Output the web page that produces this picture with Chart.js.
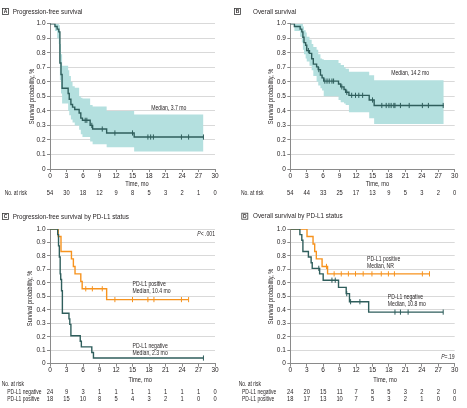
<!DOCTYPE html>
<html><head><meta charset="utf-8">
<script src="https://cdn.jsdelivr.net/npm/chart.js@4/dist/chart.umd.min.js"></script>
<style>
html,body{margin:0;padding:0;background:#fff;}
#wrap{position:relative;width:467px;height:408px;overflow:hidden;background:#fff}
canvas{position:absolute}
</style></head><body><div id="wrap">
<canvas id="cA" width="233" height="200" style="left:0;top:0"></canvas>
<canvas id="cB" width="234" height="200" style="left:233px;top:0"></canvas>
<canvas id="cC" width="233" height="208" style="left:0;top:200px"></canvas>
<canvas id="cD" width="234" height="208" style="left:233px;top:200px"></canvas>
</div>
<script>
// ---------- tick labels ----------
const timeTicks = [0, 3, 6, 9, 12, 15, 18, 21, 24, 27, 30];
const survTicks = [0, 0.1, 0.2, 0.3, 0.4, 0.5, 0.6, 0.7, 0.8, 0.9, 1.0];
const survTickLabels = ['0', '0.1', '0.2', '0.3', '0.4', '0.5', '0.6', '0.7', '0.8', '0.9', '1.0'];

// ---------- A: progression-free survival ----------
const aTime  = [0, 0.9, 1.3, 1.6, 1.8, 2.0, 2.2, 3.3, 3.5, 3.8, 4.1, 4.5, 5.3, 5.6, 5.9, 7.3, 7.75, 10.3, 15.3, 27.9];
const aSurv  = [1, 0.981, 0.963, 0.944, 0.73, 0.65, 0.556, 0.52, 0.48, 0.444, 0.426, 0.41, 0.385, 0.35, 0.335, 0.30, 0.275, 0.248, 0.22, 0.22];
const aUpper = [1, 1, 1, 0.99, 0.86, 0.79, 0.71, 0.68, 0.64, 0.60, 0.57, 0.56, 0.50, 0.49, 0.485, 0.44, 0.43, 0.40, 0.375, 0.375];
const aLower = [1, 0.95, 0.90, 0.86, 0.61, 0.52, 0.45, 0.40, 0.37, 0.34, 0.32, 0.30, 0.27, 0.24, 0.22, 0.19, 0.17, 0.15, 0.12, 0.12];
const aCensor = [6.4, 6.7, 7.6, 9.5, 11.8, 15.0, 17.8, 18.3, 18.8, 23.9, 25.2, 27.9];
const aRisk  = [54, 30, 18, 12, 9, 8, 5, 3, 2, 1, 0];

// ---------- B: overall survival ----------
const bTime  = [0, 0.75, 1.8, 2.1, 2.3, 2.5, 2.8, 3.0, 3.5, 3.9, 4.2, 4.8, 5.1, 5.5, 5.8, 6.1, 8.8, 9.2, 9.8, 10.1, 10.7, 14.4, 15.3, 28.0];
const bSurv  = [1, 0.981, 0.963, 0.944, 0.907, 0.870, 0.852, 0.815, 0.796, 0.759, 0.722, 0.703, 0.684, 0.646, 0.627, 0.605, 0.585, 0.565, 0.547, 0.528, 0.507, 0.475, 0.437, 0.437];
const bUpper = [1, 1, 1, 1, 0.98, 0.955, 0.94, 0.91, 0.89, 0.86, 0.84, 0.82, 0.79, 0.76, 0.755, 0.75, 0.73, 0.715, 0.70, 0.69, 0.67, 0.645, 0.61, 0.61];
const bLower = [1, 0.95, 0.91, 0.87, 0.82, 0.79, 0.76, 0.74, 0.71, 0.68, 0.64, 0.60, 0.575, 0.555, 0.54, 0.50, 0.475, 0.46, 0.45, 0.44, 0.39, 0.35, 0.31, 0.31];
const bCensor = [3.3, 5.2, 6.3, 6.7, 7.1, 7.6, 7.9, 9.4, 10.3, 11.2, 11.9, 12.5, 13.2, 15.0, 16.7, 17.5, 18.0, 18.4, 18.9, 19.1, 20.1, 21.7, 24.1, 25.2, 27.9];
const bRisk  = [54, 44, 33, 25, 17, 13, 9, 5, 3, 2, 0];

// ---------- C: PFS by PD-L1 status ----------
const cNegTime = [0, 1.4, 1.55, 1.7, 1.85, 1.95, 2.1, 2.25, 3.45, 3.6, 3.8, 5.5, 5.7, 7.6, 7.9, 27.9];
const cNegSurv = [1, 0.958, 0.875, 0.792, 0.667, 0.625, 0.542, 0.375, 0.333, 0.292, 0.208, 0.167, 0.125, 0.083, 0.042, 0.042];
const cNegCensor = [27.9];
const cPosTime = [0, 1.5, 2.0, 3.9, 4.25, 4.55, 5.6, 5.85, 10.3, 25.2];
const cPosSurv = [1, 0.944, 0.833, 0.778, 0.722, 0.667, 0.611, 0.556, 0.476, 0.476];
const cPosCensor = [6.5, 7.7, 9.5, 11.8, 15.0, 17.8, 18.9, 23.9, 25.2];
const cNegRisk = [24, 9, 3, 1, 1, 1, 1, 1, 1, 1, 0];
const cPosRisk = [18, 15, 10, 8, 5, 4, 3, 2, 1, 0, 0];

// ---------- D: OS by PD-L1 status ----------
const dNegTime = [0, 1.75, 2.1, 2.3, 3.3, 3.8, 4.0, 5.35, 6.0, 8.8, 10.2, 10.8, 14.3, 27.9];
const dNegSurv = [1, 0.958, 0.917, 0.833, 0.792, 0.75, 0.708, 0.667, 0.62, 0.567, 0.52, 0.46, 0.383, 0.383];
const dNegCensor = [5.2, 7.6, 8.2, 10.3, 11.0, 12.7, 19.1, 20.1, 21.5, 27.9];
const dPosTime = [0, 3.05, 4.15, 4.45, 4.75, 5.8, 6.8, 25.4];
const dPosSurv = [1, 0.944, 0.889, 0.833, 0.778, 0.722, 0.667, 0.667];
const dPosCensor = [6.6, 8.0, 9.3, 10.6, 11.9, 13.3, 14.9, 16.6, 17.9, 19.0, 24.1, 25.4];
const dNegRisk = [24, 20, 15, 11, 7, 5, 5, 3, 2, 2, 0];
const dPosRisk = [18, 17, 13, 10, 7, 5, 3, 2, 1, 0, 0];

// ---------- styling ----------
const FONT = '"Liberation Sans", Arial, sans-serif';
const TEXT = '#231f20';
const AXIS = '#8a8a8a';
const GRID = '#d9d9d9';
const DARK = '#2f5e5c';
const ORANGE = '#f7931e';
const BAND = '#b4e0df';
// text faces: [size px, horizontal condensing]
const F_TITLE = [7.5, 0.84], F_AXIS = [7.3, 0.78], F_NOTE = [7, 0.73], F_RISK = [7, 0.71], F_NUM = [7, 0.82];
Chart.defaults.font.family = FONT;
Chart.defaults.color = TEXT;

function stepData(times, vals) { return times.map((t, i) => ({ x: t, y: vals[i] })); }
function survAt(times, vals, t) { let s = vals[0]; for (let i = 0; i < times.length; i++) { if (times[i] <= t) s = vals[i]; } return s; }
function curveDS(times, vals, color) {
  return { data: stepData(times, vals), stepped: true, borderColor: color, borderWidth: 1.4, pointRadius: 0, fill: false, order: 1 };
}
function censorDS(cens, times, vals, color) {
  return { data: cens.map(t => ({ x: t, y: survAt(times, vals, t) })), showLine: false,
    pointStyle: 'line', pointRotation: 90, pointRadius: 2.6, pointBorderColor: color, pointBorderWidth: 1,
    borderColor: color, fill: false, order: 0 };
}
function bandDS(times, up, low, color) {
  return [
    { data: stepData(times, up), stepped: true, borderWidth: 0, pointRadius: 0, fill: '+1', backgroundColor: color, order: 3 },
    { data: stepData(times, low), stepped: true, borderWidth: 0, pointRadius: 0, fill: false, order: 3 }
  ];
}

// condensed text: real text drawn with a horizontal squeeze
function cText(ctx, text, x, y, align, face, style, rot) {
  ctx.save();
  ctx.translate(x, y);
  if (rot) ctx.rotate(rot);
  ctx.scale(face[1], 1);
  ctx.font = `${style || ''} ${face[0]}px ${FONT}`;
  ctx.textAlign = align;
  ctx.textBaseline = 'middle';
  ctx.fillText(text, 0, 0);
  ctx.restore();
}
function pText(ctx, text, x, y, align, face) {
  const rest = text.slice(1);
  ctx.font = `italic ${face[0]}px ${FONT}`; const wp = ctx.measureText('P').width * face[1];
  ctx.font = `${face[0]}px ${FONT}`; const wr = ctx.measureText(rest).width * face[1];
  const x0 = align === 'right' ? x - wp - wr : x;
  cText(ctx, 'P', x0, y, 'left', face, 'italic');
  cText(ctx, rest, x0 + wp, y, 'left', face);
}

function panelPlugin(cfg) {
  return {
    id: 'panel' + cfg.letter,
    afterDraw(chart) {
      const ctx = chart.ctx, xs = chart.scales.x, ys = chart.scales.y, ca = chart.chartArea;
      ctx.save();
      ctx.fillStyle = TEXT;
      // panel letter box + title
      ctx.strokeStyle = '#3a3a3a'; ctx.lineWidth = 0.8;
      ctx.strokeRect(cfg.box[0] + 0.5, cfg.box[1] + 0.5, 6, 6);
      cText(ctx, cfg.letter, cfg.box[0] + 3.5, cfg.box[1] + 3.7, 'center', [5.5, 0.9], 'bold');
      cText(ctx, cfg.title, cfg.titleX, cfg.box[1] + 3.5, 'left', F_TITLE);
      // axis titles
      cText(ctx, 'Survival probability, %', cfg.yTitleX, (ca.top + ca.bottom) / 2 + cfg.yTitleDy, 'center', F_AXIS, '', -Math.PI / 2);
      cText(ctx, 'Time, mo', xs.getPixelForValue(cfg.xTitleT), cfg.xTitleY, 'center', F_AXIS);
      // annotations
      cfg.notes.forEach(n => {
        const x = xs.getPixelForValue(n.t), y = ys.getPixelForValue(n.s);
        if (n.italicP) pText(ctx, n.text, x, y, n.align, F_NOTE);
        else cText(ctx, n.text, x, y, n.align, F_NOTE);
      });
      // number at risk
      cText(ctx, 'No. at risk', cfg.risk.headX, cfg.risk.headY, 'left', F_RISK);
      cfg.risk.rows.forEach(r => {
        if (r.label) cText(ctx, r.label, cfg.risk.labelX, r.y, 'left', F_RISK);
        r.values.forEach((v, i) => cText(ctx, String(v), xs.getPixelForValue(timeTicks[i]), r.y, 'center', F_NUM));
      });
      ctx.restore();
    }
  };
}

function makeChart(id, cfg) {
  new Chart(document.getElementById(id), {
    type: 'line',
    data: { datasets: cfg.datasets },
    options: {
      responsive: false, animation: false, devicePixelRatio: 1,
      layout: { padding: { left: 0, top: cfg.area.t, right: cfg.W - cfg.area.r, bottom: 0 } },
      plugins: { legend: { display: false }, tooltip: { enabled: false } },
      scales: {
        x: {
          type: 'linear', min: 0, max: 30,
          afterFit: s => { s.height = cfg.H - cfg.area.b; },
          afterBuildTicks: s => { s.ticks = timeTicks.map(v => ({ value: v })); },
          ticks: { padding: 0, maxRotation: 0, autoSkip: false, font: { size: 6.5 }, color: TEXT },
          grid: { drawOnChartArea: false, drawTicks: true, tickLength: 3, tickColor: AXIS },
          border: { display: true, color: AXIS, width: 1 }
        },
        y: {
          type: 'linear', min: 0, max: 1,
          afterFit: s => { s.width = cfg.area.l; },
          afterBuildTicks: s => { s.ticks = survTicks.map(v => ({ value: v })); },
          ticks: { padding: 1.5, autoSkip: false, font: { size: 6.5 }, color: TEXT, callback: (v, i) => survTickLabels[i] },
          grid: { color: GRID, drawTicks: true, tickLength: 3, tickColor: AXIS },
          border: { display: true, color: AXIS, width: 1 }
        }
      }
    },
    plugins: [panelPlugin(cfg)]
  });
}

makeChart('cA', {
  letter: 'A', title: 'Progression-free survival', box: [2, 8], titleX: 12.7,
  W: 233, H: 200, area: { l: 50, r: 215, t: 23.7, b: 169 },
  yTitleX: 31.7, yTitleDy: 0, xTitleT: 15.8, xTitleY: 184,
  datasets: [...bandDS(aTime, aUpper, aLower, BAND), curveDS(aTime, aSurv, DARK), censorDS(aCensor, aTime, aSurv, DARK)],
  notes: [{ text: 'Median, 3.7 mo', t: 18.4, s: 0.42, align: 'left' }],
  risk: { headX: 4.7, headY: 193, labelX: 0, rows: [{ label: null, y: 193, values: aRisk }] }
});
makeChart('cB', {
  letter: 'B', title: 'Overall survival', box: [1, 8], titleX: 20,
  W: 234, H: 200, area: { l: 57.3, r: 221.7, t: 23.7, b: 169 },
  yTitleX: 38.3, yTitleDy: 0, xTitleT: 15.9, xTitleY: 184,
  datasets: [...bandDS(bTime, bUpper, bLower, BAND), curveDS(bTime, bSurv, DARK), censorDS(bCensor, bTime, bSurv, DARK)],
  notes: [{ text: 'Median, 14.2 mo', t: 18.4, s: 0.663, align: 'left' }],
  risk: { headX: 8, headY: 193, labelX: 0, rows: [{ label: null, y: 193, values: bRisk }] }
});
makeChart('cC', {
  letter: 'C', title: 'Progression-free survival by PD-L1 status', box: [2, 13], titleX: 12.7,
  W: 233, H: 208, area: { l: 50, r: 215, t: 29, b: 163.7 },
  yTitleX: 30, yTitleDy: 2, xTitleT: 16.4, xTitleY: 180,
  datasets: [curveDS(cNegTime, cNegSurv, DARK), censorDS(cNegCensor, cNegTime, cNegSurv, DARK),
             curveDS(cPosTime, cPosSurv, ORANGE), censorDS(cPosCensor, cPosTime, cPosSurv, ORANGE)],
  notes: [
    { text: 'P< .001', t: 30, s: 0.96, align: 'right', italicP: true },
    { text: 'PD-L1 positive', t: 15.0, s: 0.59, align: 'left' },
    { text: 'Median, 10.4 mo', t: 15.0, s: 0.54, align: 'left' },
    { text: 'PD-L1 negative', t: 15.0, s: 0.134, align: 'left' },
    { text: 'Median, 2.3 mo', t: 15.0, s: 0.082, align: 'left' }
  ],
  risk: { headX: 1.7, headY: 184, labelX: 7.3, rows: [
    { label: 'PD-L1 negative', y: 192, values: cNegRisk },
    { label: 'PD-L1 positive', y: 199, values: cPosRisk }] }
});
makeChart('cD', {
  letter: 'D', title: 'Overall survival by PD-L1 status', box: [8.3, 12.7], titleX: 20,
  W: 234, H: 208, area: { l: 57.3, r: 221.7, t: 29, b: 163.7 },
  yTitleX: 38.3, yTitleDy: 0, xTitleT: 17.3, xTitleY: 180,
  datasets: [curveDS(dNegTime, dNegSurv, DARK), censorDS(dNegCensor, dNegTime, dNegSurv, DARK),
             curveDS(dPosTime, dPosSurv, ORANGE), censorDS(dPosCensor, dPosTime, dPosSurv, ORANGE)],
  notes: [
    { text: 'P=.19', t: 30, s: 0.052, align: 'right', italicP: true },
    { text: 'PD-L1 positive', t: 14.0, s: 0.777, align: 'left' },
    { text: 'Median, NR', t: 14.0, s: 0.728, align: 'left' },
    { text: 'PD-L1 negative', t: 17.8, s: 0.493, align: 'left' },
    { text: 'Median, 10.8 mo', t: 17.8, s: 0.441, align: 'left' }
  ],
  risk: { headX: 5.7, headY: 184, labelX: 9, rows: [
    { label: 'PD-L1 negative', y: 192, values: dNegRisk },
    { label: 'PD-L1 positive', y: 199, values: dPosRisk }] }
});
</script>
</body></html>
